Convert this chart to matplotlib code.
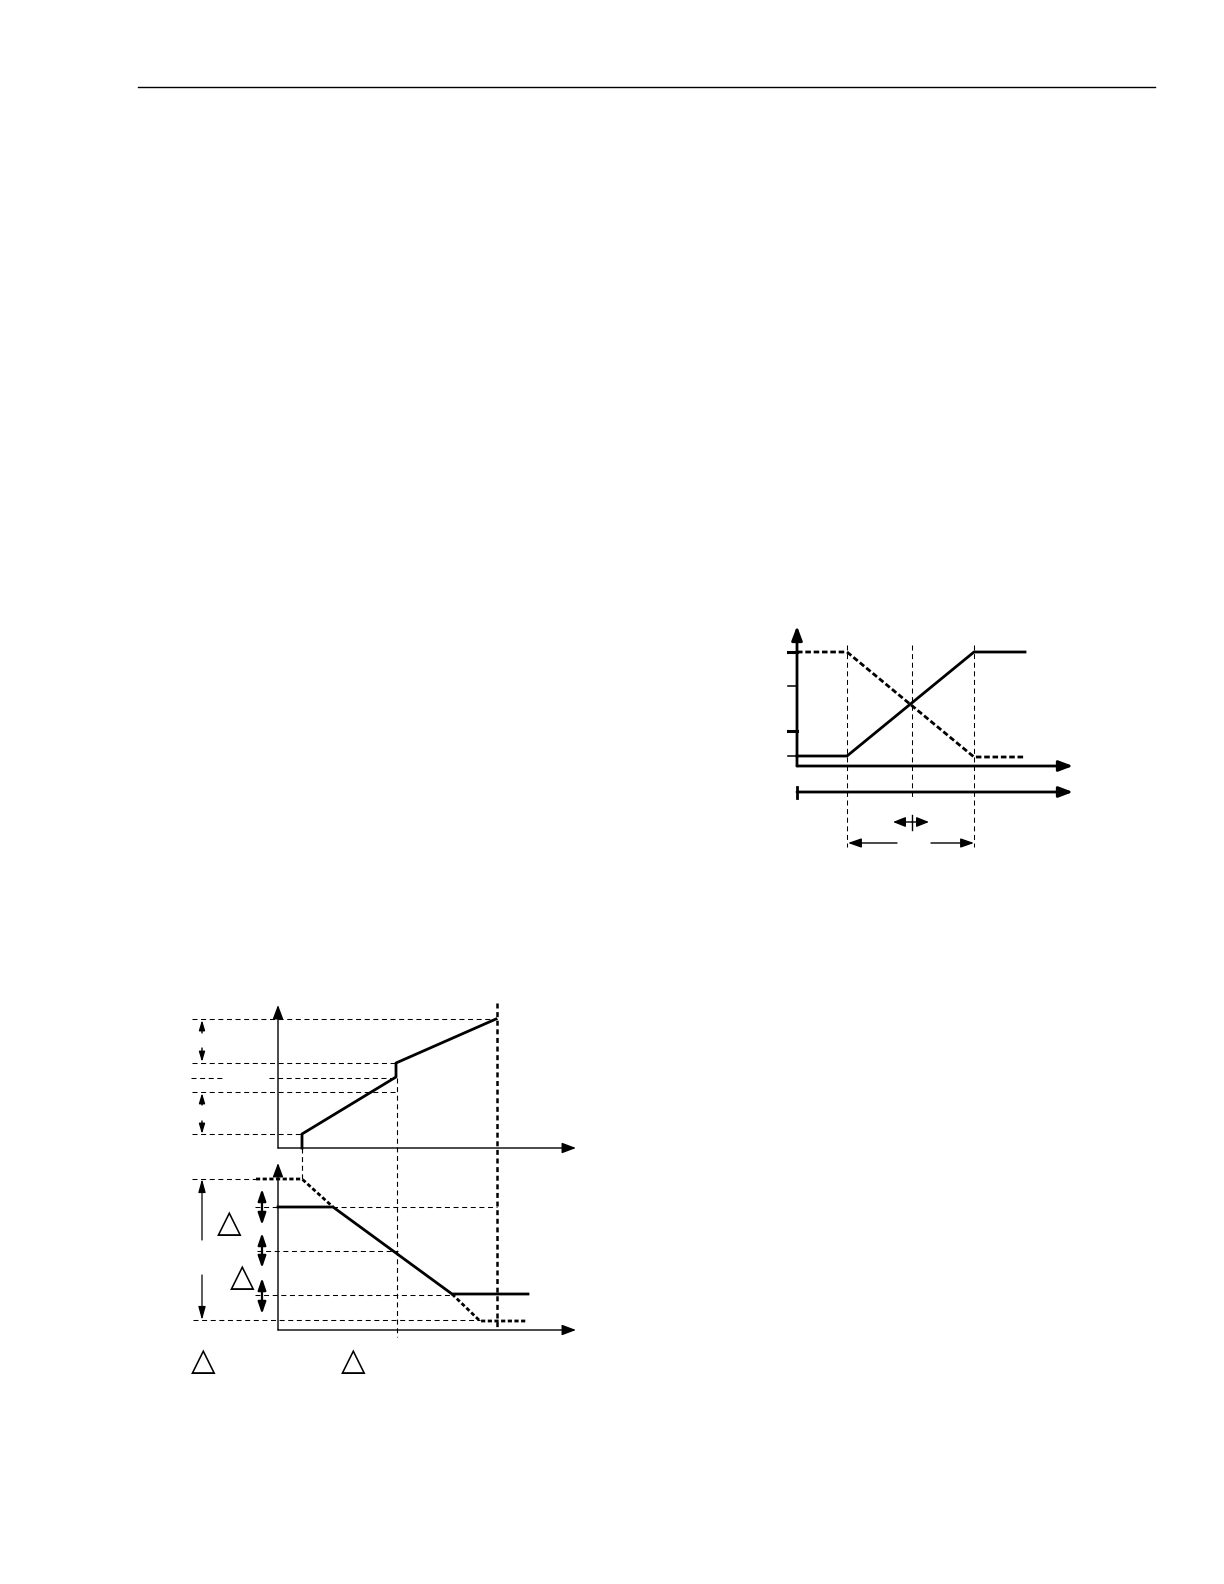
import matplotlib
matplotlib.use("Agg")
import matplotlib.pyplot as plt

plt.rcParams['lines.scale_dashes'] = False
plt.rcParams['font.family'] = ['DejaVu Sans']

W, H = 1224, 1584

# page header rule
header_x = [138, 1155]
header_y = 87

# ---- diagram 1 (right): crossing ramps ----
d1_origin = (797, 766)
d1_ytip = 626
d1_xtip = 1073
d1_ticks_y = [652, 686, 731, 756]
d1_ticks_lw = [2.2, 1.1, 2.2, 1.1]
d1_tick_left = 788
d1_solid_x = [797, 847, 974, 1025]
d1_solid_y = [756, 756, 652, 652]
d1_dash_x = [797, 847, 974, 1025]
d1_dash_y = [652, 652, 757, 757]
d1_vlines_x = [847, 912, 974]
d1_vlines_bottom = [847, 797, 847]
d1_vlines_top = 645
d1_time_y = 792
d1_small_y = 822
d1_small_ends = [893, 929]
d1_span_y = 843
d1_span_arrows = [(897, 848), (931, 974)]

# ---- diagram 2 (left): two stacked graphs ----
d2_yaxis_x = 278
d2_top_axis_y = 1148
d2_top_ytip = 1005
d2_bot_axis_y = 1330
d2_bot_ytip = 1163
d2_xtip = 576
d2_top_hdash = [(1019, 192, 497), (1063, 192, 397), (1078, 191, 223),
                (1078, 269, 397), (1092, 192, 398), (1134, 192, 302)]
d2_top_solid_x = [302, 302, 396, 396, 496]
d2_top_solid_y = [1148, 1134, 1077, 1063, 1019]
d2_top_arrows = [(1033, 1020), (1048, 1062), (1105, 1093), (1121, 1134)]
d2_arrow_x = 202
d2_bot_hdash = [(1179, 192, 256), (1207, 255, 497), (1251, 257, 398),
                (1295, 255, 452), (1320, 193, 480)]
d2_bot_dash_head_x = [256, 302, 333]
d2_bot_dash_head_y = [1179, 1179, 1207]
d2_bot_dash_tail_x = [452, 480, 527]
d2_bot_dash_tail_y = [1294, 1321, 1321]
d2_bot_solid_x = [278, 333, 452, 528]
d2_bot_solid_y = [1207, 1207, 1294, 1294]
d2_long_arrows = [(1240, 1179), (1275, 1320)]
d2_double_x = 262
d2_double_spans = [(1189, 1225), (1233, 1268), (1278, 1314)]
d2_vdash = [(397, 1078, 1337, 0.8), (302, 1148, 1179, 0.8), (497, 1003, 1330, 1.8)]
triangles_x = [229.5, 242, 203, 353]
triangles_y = [1223, 1277, 1362, 1362]

fig = plt.figure(figsize=(W / 100, H / 100), dpi=100)
ax = fig.add_axes([0, 0, 1, 1])
ax.set_xlim(0, W)
ax.set_ylim(H, 0)
ax.axis('off')

K = 'black'
THIN = dict(color=K, lw=0.75, dashes=(3.6, 2.6))


def arrow(x0, y0, x1, y1, lw=1.0, hl=8.0, hw=3.5):
    ax.annotate('', xy=(x1, y1), xytext=(x0, y0),
                arrowprops=dict(arrowstyle=f'-|>,head_length={hl},head_width={hw}',
                                color=K, lw=lw, shrinkA=0, shrinkB=0,
                                mutation_scale=1))


ax.plot(header_x, [header_y, header_y], color=K, lw=1.0)

# diagram 1
ox, oy = d1_origin
arrow(ox, oy, ox, d1_ytip, lw=2.0, hl=8.5, hw=3.2)
arrow(ox, oy, d1_xtip, oy, lw=2.0, hl=8.5, hw=3.2)
for ty, tlw in zip(d1_ticks_y, d1_ticks_lw):
    ax.plot([d1_tick_left, ox], [ty, ty], color=K, lw=tlw)
ax.plot(d1_solid_x, d1_solid_y, color=K, lw=2.0, solid_joinstyle='miter')
ax.plot(d1_dash_x, d1_dash_y, color=K, lw=2.0, dashes=(4.0, 2.0))
for vx, vb in zip(d1_vlines_x, d1_vlines_bottom):
    ax.plot([vx, vx], [d1_vlines_top, vb], **THIN)
arrow(ox, d1_time_y, d1_xtip, d1_time_y, lw=2.0, hl=8.5, hw=3.2)
ax.plot([ox, ox], [d1_time_y - 5, d1_time_y + 6], color=K, lw=2.0)
mid = d1_vlines_x[1]
for ex in d1_small_ends:
    arrow(mid, d1_small_y, ex, d1_small_y, lw=1.0, hl=7.5, hw=3.0)
ax.plot([mid, mid], [d1_small_y - 7, d1_small_y + 8], color=K, lw=1.0)
for x0, x1 in d1_span_arrows:
    arrow(x0, d1_span_y, x1, d1_span_y, lw=1.0, hl=8.0, hw=2.8)

# diagram 2, upper graph
arrow(d2_yaxis_x, d2_top_axis_y, d2_yaxis_x, d2_top_ytip, lw=1.0, hl=8.5, hw=3.2)
arrow(d2_yaxis_x, d2_top_axis_y, d2_xtip, d2_top_axis_y, lw=1.0, hl=8.5, hw=3.2)
for hy, hx0, hx1 in d2_top_hdash:
    ax.plot([hx0, hx1], [hy, hy], **THIN)
for vx, vy0, vy1, vlw in d2_vdash:
    ax.plot([vx, vx], [vy0, vy1], color=K, lw=vlw, dashes=(3.6, 2.6))
ax.plot(d2_top_solid_x, d2_top_solid_y, color=K, lw=2.0)
for y0, y1 in d2_top_arrows:
    arrow(d2_arrow_x, y0, d2_arrow_x, y1, lw=1.0, hl=6.0, hw=1.8)

# diagram 2, lower graph
arrow(d2_yaxis_x, d2_bot_axis_y, d2_yaxis_x, d2_bot_ytip, lw=1.0, hl=8.5, hw=3.2)
arrow(d2_yaxis_x, d2_bot_axis_y, d2_xtip, d2_bot_axis_y, lw=1.0, hl=8.5, hw=3.2)
for hy, hx0, hx1 in d2_bot_hdash:
    ax.plot([hx0, hx1], [hy, hy], **THIN)
ax.plot(d2_bot_dash_head_x, d2_bot_dash_head_y, color=K, lw=2.0, dashes=(3.0, 1.8))
ax.plot(d2_bot_dash_tail_x, d2_bot_dash_tail_y, color=K, lw=2.0, dashes=(3.0, 1.8))
ax.plot(d2_bot_solid_x, d2_bot_solid_y, color=K, lw=2.0)
for y0, y1 in d2_long_arrows:
    arrow(d2_arrow_x, y0, d2_arrow_x, y1, lw=0.9, hl=8.0, hw=2.2)
for y0, y1 in d2_double_spans:
    ymid = (y0 + y1) / 2
    arrow(d2_double_x, ymid, d2_double_x, y0, lw=1.6, hl=7.0, hw=2.4)
    arrow(d2_double_x, ymid, d2_double_x, y1, lw=1.6, hl=7.0, hw=2.4)

for tx, ty in zip(triangles_x, triangles_y):
    ax.text(tx, ty, '\u25b3', fontsize=23, ha='center', va='center', color=K)

fig.savefig('out.png', dpi=100, facecolor='white')
